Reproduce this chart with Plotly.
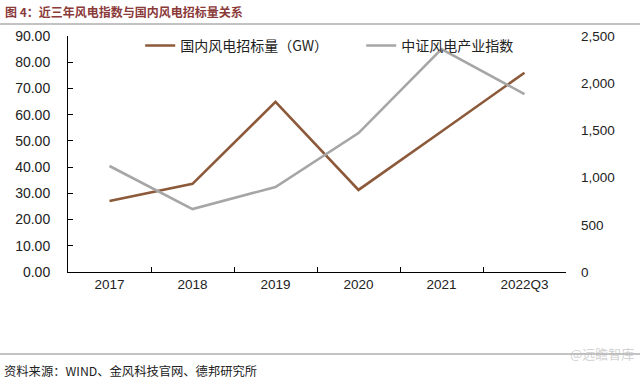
import plotly.graph_objects as go

categories = ["2017", "2018", "2019", "2020", "2021", "2022Q3"]
tender_gw = [27.1, 33.6, 64.9, 31.3, 53.6, 76.0]
wind_index = [1123, 667, 900, 1472, 2362, 1885]
left_ticks = [0, 10, 20, 30, 40, 50, 60, 70, 80, 90]
right_ticks = [0, 500, 1000, 1500, 2000, 2500]

FONT = "Liberation Sans, Arial, Noto Sans CJK SC"
CJK = "Noto Sans CJK SC, Liberation Sans"

fig = go.Figure()
fig.add_trace(go.Scatter(x=categories, y=tender_gw, mode="lines",
                         name="国内风电招标量（GW）",
                         line=dict(color="#8C5A3A", width=2.6)))
fig.add_trace(go.Scatter(x=categories, y=wind_index, mode="lines",
                         name="中证风电产业指数", yaxis="y2",
                         line=dict(color="#A6A6A6", width=2.6)))

fig.update_layout(
    width=640, height=380,
    margin=dict(l=68, r=74, t=36, b=108),
    paper_bgcolor="white", plot_bgcolor="white",
    font=dict(family=FONT, color="#222222", size=13),
    showlegend=True,
    legend=dict(orientation="h", x=0.145, y=0.958, xanchor="left", yanchor="middle",
                font=dict(family=CJK, size=14, color="#222"),
                entrywidth=176, entrywidthmode="pixels",
                bgcolor="rgba(0,0,0,0)", itemwidth=30),
    xaxis=dict(type="category", tickson="boundaries", ticks="inside", ticklen=5,
               tickcolor="#000", showline=True, linecolor="#000", linewidth=1,
               showgrid=False, tickfont=dict(size=13.5, color="#222"),
               range=[-0.5, 5.5]),
    yaxis=dict(range=[0, 90], tickvals=left_ticks, tickformat=".2f",
               ticks="inside", ticklen=5, tickcolor="#000",
               showline=True, linecolor="#000", linewidth=1, showgrid=False,
               zeroline=False, tickfont=dict(size=14, color="#222"),
               ticklabelstandoff=14),
    yaxis2=dict(range=[0, 2500], tickvals=right_ticks, tickformat=",",
                overlaying="y", side="right", showline=False, showgrid=False,
                zeroline=False, ticks="", tickfont=dict(size=13.5, color="#222"),
                ticklabelstandoff=14),
)

fig.add_annotation(text="<b>图 4：近三年风电指数与国内风电招标量关系</b>", xref="paper", yref="paper",
                   x=0, xanchor="left", y=1, yanchor="top",
                   xshift=-65, yshift=35,
                   showarrow=False, font=dict(family=CJK, size=12, color="#8B3A3A"))
fig.add_shape(type="line", xref="paper", yref="paper", x0=-68/498, x1=(640-68)/498,
              y0=(272-24)/236, y1=(272-24)/236, line=dict(color="#888", width=1.2))
fig.add_shape(type="line", xref="paper", yref="paper", x0=-68/498, x1=(640-68)/498,
              y0=(272-354)/236, y1=(272-354)/236, line=dict(color="#888", width=1.2))
fig.add_annotation(text="资料来源：WIND、金风科技官网、德邦研究所", xref="paper", yref="paper",
                   x=-68/498, xanchor="left", y=(272-371)/236, yanchor="middle",
                   xshift=2, showarrow=False,
                   font=dict(family=CJK, size=12.3, color="#222"))
fig.add_annotation(text="@远瞻智库", xref="paper", yref="paper",
                   x=(636-68)/498, xanchor="right", y=(272-353)/236, yanchor="middle",
                   showarrow=False, font=dict(family=CJK, size=13, color="rgba(180,180,180,0.6)"))

fig.write_html("out.html", config={"displayModeBar": False},
               post_script="document.body.style.margin='0';document.body.style.overflow='hidden';")
